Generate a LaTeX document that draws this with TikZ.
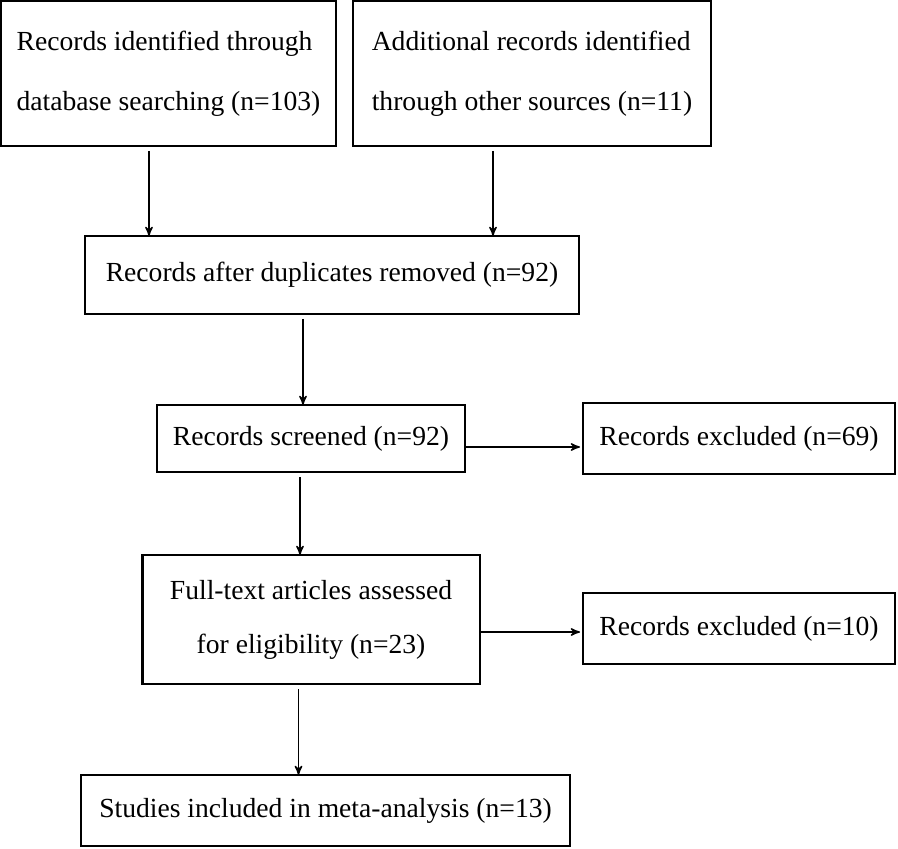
\documentclass[tikz,border=0pt]{standalone}
\usepackage{fontspec}
\setmainfont{Liberation Serif}
\usetikzlibrary{arrows, positioning}
\newcommand*{\boxLine}{1pt}
\tikzset{
    to/.style      = {->, >=stealth', shorten <=2.5pt, line width=0.7pt},
    sideto/.style  = {->, >=stealth', shorten >=1.5pt, line width=0.7pt},
    process/.style = {draw, rectangle, line width=\boxLine, outer sep=0pt, minimum height=35.5pt, text centered},
    twoline/.style = {process, minimum height=72.5pt, align=left, font=\fontsize{13.8pt}{30pt}\selectfont}
}

\begin{document}
\begin{tikzpicture}[every node/.style={font=\fontsize{13.8pt}{17pt}\selectfont}]
	\useasboundingbox (-84.25pt,36.75pt) rectangle (364.75pt,-387.75pt);
	\node (ident) [twoline, minimum width=167.5pt] at (0,0) {Records identified through\\database searching (n=103)};
	\node (other) [twoline, minimum width=179pt, right=8.5pt of ident] {Additional records identified\\through other sources (n=11)};
	\node (dupl)  [process, minimum width=247pt, minimum height=39pt, below=45pt of ident, xshift=81.75pt] {Records after duplicates removed (n=92)};
	\node (screen)[process, minimum width=154pt, minimum height=33.5pt, below=45.5pt of dupl, xshift=-10.5pt] {Records screened (n=92)};
	\node (excl1) [process, minimum width=156pt, right=59pt of screen] {Records excluded (n=69)};
	\node (full)  [process, minimum width=168.5pt, minimum height=64.5pt, below=41.5pt of screen, align=center, font=\fontsize{13.8pt}{27pt}\selectfont] {Full-text articles assessed\\for eligibility (n=23)};
	\node (excl2) [process, minimum width=156pt, below=59.5pt of excl1] {Records excluded (n=10)};
	\node (incl)  [process, minimum width=244pt, below=45.5pt of full, xshift=7.25pt] {Studies included in meta-analysis (n=13)};

	\draw [to] ([xshift=-9.75pt]ident.south) -- ([xshift=-9.75pt]ident.south |- dupl.north);
	\draw [to] ([xshift=-19.5pt]other.south) -- ([xshift=-19.5pt]other.south |- dupl.north);
	\draw [to] ([xshift=-14.5pt]dupl.south) -- ([xshift=-14.5pt]dupl.south |- screen.north);
	\draw [to] ([xshift=-5.5pt]screen.south) -- ([xshift=-5.5pt]screen.south |- full.north);
	\draw [to] ([xshift=-6.25pt]full.south) -- ([xshift=-6.25pt]full.south |- incl.north);
	\draw [sideto] ([yshift=-4.25pt]screen.east) -- ([yshift=-4.25pt]screen.east -| excl1.west);
	\draw [sideto] ([yshift=-6.25pt]full.east) -- ([yshift=-6.25pt]full.east -| excl2.west);
\end{tikzpicture}
\end{document}
